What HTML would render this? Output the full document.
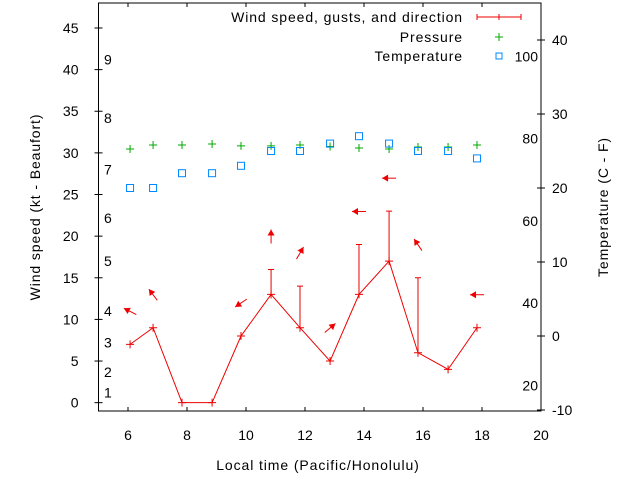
<!DOCTYPE html>
<html><head><meta charset="utf-8"><style>
body{margin:0;background:#fff}
svg{display:block;font-family:"Liberation Sans",sans-serif;font-size:14px}
.wide{letter-spacing:0.9px}
</style></head><body>
<svg id="chart" width="640" height="480">
<g id="axes"></g><g id="marks"></g>
</svg>
<script>
const times=[6.07,6.85,7.83,8.85,9.83,10.85,11.83,12.85,13.83,14.85,15.83,16.85,17.83];
const windSpeed=[7,9,0,0,8,13,9,5,13,17,6,4,9];
const gusts=[null,null,null,null,null,16,14,null,19,23,15,null,null];
const windDir=[117,143,null,null,56,180,210,230,90,90,146,null,90];
const pressure=[30.46,30.94,30.94,31.06,30.84,30.84,30.94,30.76,30.58,30.46,30.7,30.7,30.94];
const tempC=[20,20,22,22,23,25,25,26,27,26,25,25,24];
const xTicks=[6,8,10,12,14,16,18,20];
const yTicks=[0,5,10,15,20,25,30,35,40,45];
const cTicks=[-10,0,10,20,30,40];
const fTicks=[20,40,60,80,100];
const beaufort=[1,2,3,4,5,6,7,8,9];
const beaufortKt=[1.2,3.7,7.2,11,17,22.2,28,34.2,41.2];

const L=98.5,R=541,T=3,B=411;
const X=v=>L+(v-5)*(R-L)/15;
const Y=v=>B-(v+1)*(B-T)/49;
const YC=c=>336-c*7.4;
const YF=f=>YC((f-32)*5/9);
const NS="http://www.w3.org/2000/svg";
function mk(parent,tag,attrs,name,text){
  const e=document.createElementNS(NS,tag);
  for(const k in attrs)e.setAttribute(k,attrs[k]);
  
  
  if(text!==undefined)e.textContent=text;
  parent.appendChild(e);return e;
}
const ax=document.getElementById('axes'),mg=document.getElementById('marks');
mk(ax,'rect',{x:L,y:T,width:R-L,height:B-T,fill:'none',stroke:'#000'},'plot-frame');
xTicks.forEach(t=>{
  mk(ax,'line',{x1:X(t),x2:X(t),y1:B,y2:B-4,stroke:'#000'},'x-tick');
  mk(ax,'line',{x1:X(t),x2:X(t),y1:T,y2:T+4,stroke:'#000'},'x-tick-top');
  mk(ax,'text',{x:X(t),y:B+29,'text-anchor':'middle'},'x-tick-label',t);
});
yTicks.forEach(t=>{
  mk(ax,'line',{x1:L-4,x2:L+4,y1:Y(t),y2:Y(t),stroke:'#000'},'y-tick');
  mk(ax,'text',{x:L-20,y:Y(t)+5,'text-anchor':'end'},'y-tick-label',t);
});
beaufort.forEach((b,i)=>{
  mk(ax,'text',{x:104,y:Y(beaufortKt[i])+5},'beaufort-label',b);
});
cTicks.forEach(t=>{
  mk(ax,'line',{x1:R-4,x2:R+4,y1:YC(t),y2:YC(t),stroke:'#000'},'celsius-tick');
  mk(ax,'text',{x:R+11,y:YC(t)+5},'celsius-tick-label',t);
});
fTicks.forEach(t=>{
  mk(ax,'text',{x:R-3,y:YF(t)+5,'text-anchor':'end'},'fahrenheit-tick-label',t);
});
mk(ax,'text',{x:318,y:470,'text-anchor':'middle',class:'wide'},'x-axis-title','Local time (Pacific/Honolulu)');
mk(ax,'text',{x:40,y:207,'text-anchor':'middle',class:'wide',transform:'rotate(-90 40 207)'},'y-axis-title','Wind speed (kt - Beaufort)');
mk(ax,'text',{x:608,y:207,'text-anchor':'middle',class:'wide',transform:'rotate(-90 608 207)'},'y2-axis-title','Temperature (C - F)');
// legend
mk(ax,'text',{x:463,y:22,'text-anchor':'end',class:'wide'},'legend-wind-label','Wind speed, gusts, and direction');
mk(ax,'path',{d:'M477 17H521M477 14V20M521 14V20M499 14V20',stroke:'#e00',fill:'none'},'legend-wind-sample');
mk(ax,'text',{x:463,y:42,'text-anchor':'end',class:'wide'},'legend-pressure-label','Pressure');
mk(ax,'path',{d:'M495 37H503M499 33V41',stroke:'#0a0'},'legend-pressure-sample');
mk(ax,'text',{x:463,y:61,'text-anchor':'end',class:'wide'},'legend-temperature-label','Temperature');
mk(ax,'rect',{x:496,y:53,width:6,height:6,fill:'none',stroke:'#08f'},'legend-temperature-sample');
// wind line
mk(mg,'polyline',{points:times.map((t,i)=>X(t)+','+Y(windSpeed[i])).join(' '),fill:'none',stroke:'#e00'},'wind-speed-line');
times.forEach((t,i)=>{
  const x=X(t),y=Y(windSpeed[i]);
  mk(mg,'path',{d:`M${x-4} ${y}H${x+4}M${x} ${y-4}V${y+4}`,stroke:'#e00'},'wind-speed-point');
  if(gusts[i]!=null){
    const g=Y(gusts[i]);
    mk(mg,'path',{d:`M${x} ${y}V${g}M${x-3} ${g}H${x+3}`,stroke:'#e00'},'gust-bar');
  }
  if(windDir[i]!=null){
    const top=Math.max(windSpeed[i],gusts[i]||0);
    const cy=Y(top)-33,cx=x;
    const a=(windDir[i]+180)*Math.PI/180;
    const dx=Math.sin(a),dy=-Math.cos(a),len=14;
    const x1=cx-dx*len/2,y1=cy-dy*len/2,x2=cx+dx*len/2,y2=cy+dy*len/2;
    const px=-dy,py=dx;
    mk(mg,'line',{x1:x1,y1:y1,x2:x2,y2:y2,stroke:'#e00'},'wind-direction-arrow');
    mk(mg,'polygon',{points:`${x2},${y2} ${x2-dx*6+px*3.5},${y2-dy*6+py*3.5} ${x2-dx*6-px*3.5},${y2-dy*6-py*3.5}`,fill:'#e00'},'wind-direction-arrowhead');
  }
  const py2=Y(pressure[i]);
  mk(mg,'path',{d:`M${x-4} ${py2}H${x+4}M${x} ${py2-4}V${py2+4}`,stroke:'#0a0'},'pressure-point');
  const ty=YC(tempC[i]);
  mk(mg,'rect',{x:x-3.5,y:ty-3.5,width:7,height:7,fill:'none',stroke:'#08f'},'temperature-point');
});
</script>
</body></html>
